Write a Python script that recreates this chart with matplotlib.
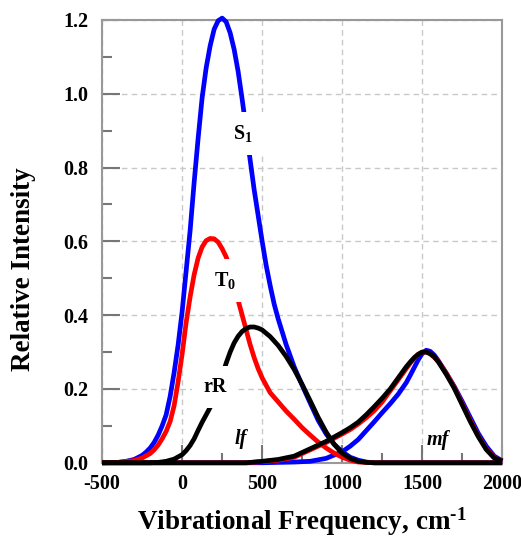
import numpy as np
import matplotlib.pyplot as plt
from matplotlib.ticker import MultipleLocator

plt.rcParams['font.family'] = ['Liberation Serif', 'DejaVu Serif']
plt.rcParams['font.weight'] = 'bold'
plt.rcParams['axes.unicode_minus'] = False
plt.rcParams['mathtext.fontset'] = 'custom'
plt.rcParams['mathtext.rm'] = 'Liberation Serif:bold'
plt.rcParams['mathtext.bf'] = 'Liberation Serif:bold'
plt.rcParams['mathtext.it'] = 'Liberation Serif:bold:italic'

# low-frequency (lf) bands
x_s1_lf = [-500, -400, -350, -300, -250, -225, -200, -175, -150, -125, -100, -75, -50, -25, 0,
           25, 50, 75, 100, 125, 150, 175, 200, 225, 250, 275, 300, 325, 350, 375, 400, 425,
           450, 475, 500, 525, 550, 575, 600, 625, 650, 675, 700, 750, 800, 850, 900, 950,
           1000, 1050, 1100, 1150, 1200, 2000]
y_s1_lf = [0, 0.001, 0.004, 0.009, 0.02, 0.029, 0.04, 0.055, 0.075, 0.1, 0.13, 0.18, 0.245,
           0.32, 0.41, 0.52, 0.63, 0.76, 0.88, 0.99, 1.07, 1.13, 1.175, 1.198, 1.205, 1.195,
           1.165, 1.12, 1.06, 0.985, 0.905, 0.82, 0.74, 0.67, 0.6, 0.535, 0.48, 0.43, 0.39,
           0.355, 0.32, 0.29, 0.26, 0.21, 0.162, 0.115, 0.078, 0.05, 0.03, 0.015, 0.007,
           0.002, 0, 0]

x_t0_lf = [-500, -400, -300, -250, -200, -175, -150, -125, -100, -75, -50, -25, 0, 25, 50, 75,
           100, 125, 150, 175, 200, 225, 250, 275, 300, 325, 350, 375, 400, 425, 450, 475,
           500, 550, 600, 650, 700, 750, 800, 850, 900, 950, 1000, 1050, 1100, 1200, 2000]
y_t0_lf = [0, 0.001, 0.006, 0.013, 0.025, 0.035, 0.048, 0.065, 0.085, 0.112, 0.155, 0.22,
           0.295, 0.38, 0.45, 0.51, 0.555, 0.585, 0.602, 0.608, 0.607, 0.598, 0.58, 0.558,
           0.525, 0.485, 0.44, 0.4, 0.36, 0.32, 0.285, 0.255, 0.23, 0.19, 0.165, 0.14, 0.118,
           0.095, 0.075, 0.056, 0.04, 0.026, 0.015, 0.007, 0.002, 0, 0]

x_rr_lf = [-500, -200, -150, -100, -50, 0, 25, 50, 75, 100, 125, 150, 175, 200, 225, 250, 275,
           300, 325, 350, 375, 400, 425, 450, 475, 500, 550, 600, 650, 700, 750, 800, 850,
           900, 950, 1000, 1050, 1100, 1150, 1200, 2000]
y_rr_lf = [0, 0, 0.001, 0.004, 0.01, 0.022, 0.033, 0.047, 0.065, 0.088, 0.11, 0.13, 0.15,
           0.172, 0.2, 0.235, 0.27, 0.3, 0.325, 0.343, 0.356, 0.364, 0.368, 0.368, 0.365,
           0.36, 0.342, 0.318, 0.288, 0.253, 0.212, 0.168, 0.123, 0.083, 0.05, 0.026, 0.012,
           0.004, 0.001, 0, 0]

# mid-frequency (mf) bands
x_mf = [-500, 400, 500, 600, 700, 800, 900, 1000, 1050, 1100, 1150, 1200, 1250, 1300, 1350,
        1400, 1425, 1450, 1475, 1500, 1525, 1550, 1575, 1600, 1650, 1700, 1750, 1800, 1850,
        1900, 1950, 2000]
y_s1_mf = [0, 0, 0, 0.001, 0.002, 0.004, 0.012, 0.03, 0.045, 0.063, 0.087, 0.111, 0.136,
           0.16, 0.186, 0.217, 0.237, 0.258, 0.279, 0.296, 0.305, 0.302, 0.292, 0.277, 0.243,
           0.207, 0.166, 0.123, 0.08, 0.045, 0.018, 0.005]
y_t0_mf = [0, 0, 0.003, 0.007, 0.015, 0.035, 0.055, 0.078, 0.09, 0.105, 0.122, 0.141, 0.165,
           0.195, 0.225, 0.255, 0.27, 0.283, 0.294, 0.3, 0.3, 0.295, 0.286, 0.275, 0.243,
           0.205, 0.16, 0.115, 0.073, 0.038, 0.014, 0.005]
y_rr_mf = [0, 0, 0.004, 0.009, 0.018, 0.038, 0.058, 0.082, 0.095, 0.11, 0.13, 0.152, 0.175,
           0.2, 0.23, 0.26, 0.273, 0.285, 0.294, 0.3, 0.3, 0.296, 0.287, 0.274, 0.24, 0.202,
           0.157, 0.112, 0.071, 0.036, 0.013, 0.005]

fig = plt.figure(figsize=(5.21, 5.40), dpi=100)
ax = fig.add_axes([0.196, 0.143, 0.768, 0.820])

lw = 3.4
style = dict(lw=lw, clip_on=False, solid_joinstyle='round', solid_capstyle='butt')
ax.plot(x_s1_lf, y_s1_lf, color='#0000ff', zorder=3, **style)
ax.plot(x_mf, y_s1_mf, color='#0000ff', zorder=3, **style)
ax.plot(x_t0_lf, y_t0_lf, color='#ff0000', zorder=4, **style)
ax.plot(x_mf, y_t0_mf, color='#ff0000', zorder=4, **style)
ax.plot(x_rr_lf, y_rr_lf, color='black', zorder=5, **style)
ax.plot(x_mf, y_rr_mf, color='black', zorder=5, **style)

box = dict(boxstyle='square,pad=0.55', fc='white', ec='none')
ax.text(378, 0.893, r'$\mathbf{S_1}$', fontsize=14.5, ha='center', va='center', bbox=box, zorder=6)
ax.text(266, 0.493, r'$\mathbf{T_0}$', fontsize=14.5, ha='center', va='center', bbox=box, zorder=6)
ax.text(206, 0.205, 'rR', fontsize=14.5, ha='center', va='center', bbox=box, zorder=6)
ax.text(366, 0.065, 'lf', fontsize=14.5, style='italic', ha='center', va='center', zorder=6)
ax.text(1596, 0.062, 'mf', fontsize=14.5, style='italic', ha='center', va='center', zorder=6)

ax.set_xlim(-500, 2000)
ax.set_ylim(0, 1.2)
ax.xaxis.set_major_locator(MultipleLocator(500))
ax.xaxis.set_minor_locator(MultipleLocator(250))
ax.yaxis.set_major_locator(MultipleLocator(0.2))
ax.yaxis.set_minor_locator(MultipleLocator(0.1))
ax.yaxis.set_major_formatter(plt.FormatStrFormatter('%.1f'))

ax.grid(True, which='major', color='#c8c8c8', linestyle=(0, (4, 3)), lw=1.0, zorder=0)
ax.tick_params(which='major', direction='in', length=13, width=1.5, color='#777777',
               labelsize=14.5)
ax.tick_params(axis='y', which='major', pad=10)
ax.tick_params(axis='x', which='major', pad=8)
ax.tick_params(which='minor', direction='in', length=7, width=1.5, color='#777777')
for s in ax.spines.values():
    s.set_color('#999999')
    s.set_linewidth(1.5)

ax.set_xlabel(r'Vibrational Frequency, cm$^{\text{-}1}$', fontsize=19.5, fontweight='bold',
              labelpad=8)
ax.set_ylabel('Relative Intensity', fontsize=19.5, fontweight='bold')
ax.yaxis.set_label_coords(-0.165, 0.438)

fig.savefig('out.png', dpi=100)
